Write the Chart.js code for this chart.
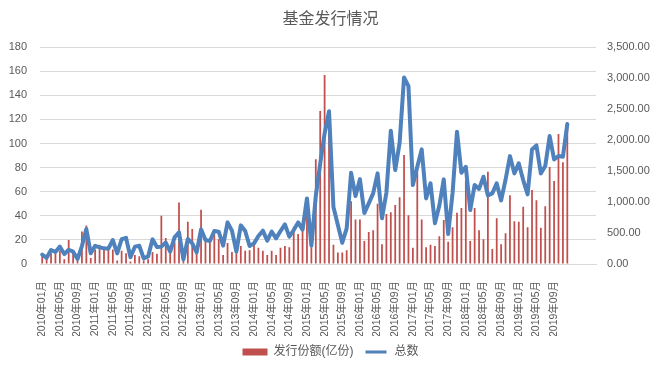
<!DOCTYPE html>
<html>
<head>
<meta charset="utf-8">
<script src="https://cdn.jsdelivr.net/npm/chart.js"></script>
<style>
  html, body { margin: 0; padding: 0; background: #fff; }
  #wrap { width: 661px; height: 371px; }
</style>
</head>
<body>
<div id="wrap"><canvas id="c" width="661" height="371"></canvas></div>
<script>
// 2010年01月 .. 2019年12月, then a few blank slots that Excel left at the right end
const years = [2010, 2011, 2012, 2013, 2014, 2015, 2016, 2017, 2018, 2019];
const monthNames = ['01', '02', '03', '04', '05', '06', '07', '08', '09', '10', '11', '12'];
const blankSlots = 6;

// 发行份额(亿份) - left axis
const shares = [
  8, 5, 9, 9, 11, 4, 20, 10, 3, 27, 32, 5,
  12, 16, 13, 13, 12, 3, 11, 9, 2, 7.5, 6.5, 3,
  4, 10, 8.5, 40, 21.5, 9.5, 18, 51, 4, 35, 29, 9.5,
  45, 20.5, 18.5, 25.5, 20.5, 7.5, 17.5, 10, 9, 15, 11, 11.5,
  16.5, 13.5, 11, 7.5, 11, 7.5, 13.5, 15, 14, 31, 25, 28,
  40, 14, 87, 127, 157, 119, 16, 9.5, 9.5, 11.5, 52, 37,
  37, 19, 26.5, 28, 50, 16.5, 41.5, 43, 49, 55.5, 90.5, 40.5,
  13.5, 77, 37, 14, 16, 15, 23, 36.5, 18.5, 30.5, 42.5, 46.5,
  69.5, 19, 46.5, 28, 20.5, 76.5, 12.5, 38, 16.5, 25.5, 57, 35.5,
  35, 47.5, 30.5, 61.5, 53, 30, 48, 80.5, 69, 108, 84.5, 118
];

// 总数 - right axis
const totals = [
  150, 100, 226, 195, 280, 160, 230, 199, 80, 290, 565, 172,
  293, 269, 253, 248, 387, 172, 400, 422, 108, 280, 295, 91,
  123, 398, 275, 280, 346, 200, 430, 511, 75, 403, 333, 188,
  559, 387, 371, 532, 522, 296, 672, 538, 199, 624, 532, 290,
  333, 452, 538, 376, 522, 414, 532, 640, 441, 548, 672, 555,
  1059, 296, 1100, 1620, 2110, 2465, 920, 629, 344, 575, 1473, 1097,
  1370, 822, 979, 1140, 1463, 737, 1150, 2151, 1516, 1960, 3011, 2871,
  1274, 1570, 1850, 1059, 1301, 656, 945, 1366, 484, 1150, 2135, 1473,
  1570, 870, 1277, 1212, 1409, 1105, 1140, 1301, 1027, 1360, 1742, 1463,
  1624, 1355, 1124, 1850, 1914, 1463, 1581, 2065, 1688, 1742, 1731, 2258
];

const leftTicks = { min: 0, max: 180, step: 20 };
const rightTicks = { min: 0, max: 3500, step: 500 };

const labels = [];
years.forEach(y => monthNames.forEach(m => labels.push(`${y}年${m}月`)));
const realCount = labels.length;
for (let i = 0; i < blankSlots; i++) labels.push('');

const textColor = '#595959';
const fontFamily = '"Liberation Sans", "Noto Sans CJK SC", sans-serif';

new Chart(document.getElementById('c'), {
  data: {
    labels,
    datasets: [
      {
        type: 'bar',
        label: '发行份额(亿份)',
        data: shares,
        yAxisID: 'y',
        backgroundColor: '#C0504D',
        barPercentage: 0.5,
        categoryPercentage: 0.8,
        order: 2
      },
      {
        type: 'line',
        label: '总数',
        data: totals,
        yAxisID: 'y1',
        borderColor: '#4F81BD',
        borderWidth: 4,
        borderJoinStyle: 'round',
        borderCapStyle: 'round',
        pointRadius: 0,
        tension: 0,
        fill: false,
        order: 1
      }
    ]
  },
  options: {
    responsive: false,
    animation: false,
    devicePixelRatio: 1,
    layout: { padding: { top: 10, left: 0, right: 0, bottom: 3 } },
    plugins: {
      title: {
        display: true,
        text: '基金发行情况',
        color: textColor,
        font: { family: fontFamily, size: 16, weight: 'normal' },
        padding: { top: 0, bottom: 18 }
      },
      legend: {
        position: 'bottom',
        labels: {
          color: textColor,
          font: { family: fontFamily, size: 12 },
          boxWidth: 25,
          boxHeight: 7,
          padding: 10,
          generateLabels(chart) {
            return chart.data.datasets.map((ds, i) => ({
              text: ds.label,
              datasetIndex: i,
              fillStyle: ds.type === 'bar' ? ds.backgroundColor : ds.borderColor,
              strokeStyle: '#ffffff',
              lineWidth: ds.type === 'bar' ? 0 : 4,
              fontColor: textColor,
              hidden: false
            }));
          }
        }
      },
      tooltip: { enabled: false }
    },
    scales: {
      x: {
        grid: { display: false },
        border: { display: true, color: '#d9d9d9' },
        ticks: {
          autoSkip: false,
          minRotation: 90,
          maxRotation: 90,
          padding: 9,
          color: textColor,
          font: { family: fontFamily, size: 10.5 },
          callback(value, index) {
            return index < realCount && index % 4 === 0 ? labels[index] : null;
          }
        },
        afterFit(scale) { scale.height = 72; }
      },
      y: {
        position: 'left',
        min: leftTicks.min,
        max: leftTicks.max,
        grid: { color: '#d9d9d9', drawTicks: false },
        border: { display: false },
        ticks: {
          stepSize: leftTicks.step,
          padding: 13,
          color: textColor,
          font: { family: fontFamily, size: 11 }
        },
        afterFit(scale) { scale.width = 40; }
      },
      y1: {
        position: 'right',
        min: rightTicks.min,
        max: rightTicks.max,
        grid: { display: false, drawTicks: false },
        border: { display: false },
        ticks: {
          stepSize: rightTicks.step,
          padding: 11,
          color: textColor,
          font: { family: fontFamily, size: 11 },
          callback: v => v.toLocaleString('en-US', { minimumFractionDigits: 2, maximumFractionDigits: 2 })
        },
        afterFit(scale) { scale.width = 65; }
      }
    }
  }
});
</script>
</body>
</html>
